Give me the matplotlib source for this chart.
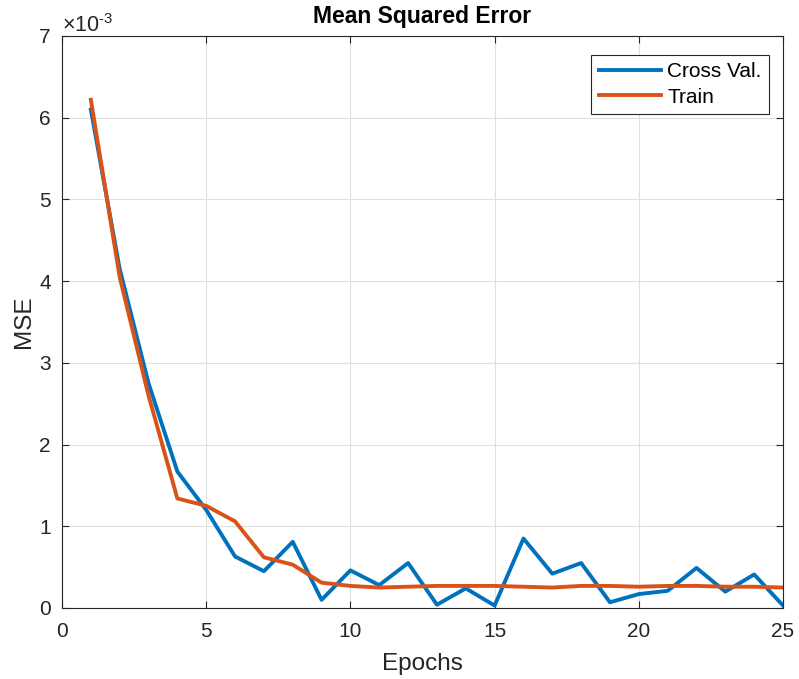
import numpy as np
import matplotlib.pyplot as plt

# --- data (MSE values, units of 1e-3) ---
epochs = np.arange(1, 26)
cross_val = [6.10, 4.15, 2.75, 1.67, 1.20, 0.63, 0.45, 0.81, 0.10, 0.46,
             0.28, 0.55, 0.04, 0.24, 0.03, 0.85, 0.42, 0.55, 0.07, 0.17,
             0.21, 0.49, 0.20, 0.41, 0.03]
train = [6.22, 4.05, 2.60, 1.34, 1.25, 1.06, 0.62, 0.53, 0.31, 0.27,
         0.25, 0.26, 0.27, 0.27, 0.27, 0.26, 0.25, 0.27, 0.27, 0.26,
         0.27, 0.27, 0.26, 0.26, 0.25]

plt.rcParams['font.family'] = ['Liberation Sans', 'DejaVu Sans']
plt.rcParams['mathtext.fontset'] = 'custom'
plt.rcParams['mathtext.rm'] = 'Liberation Sans'

fig = plt.figure(figsize=(7.99, 6.79), dpi=100)
ax = fig.add_axes([0.0776, 0.1046, 0.9024, 0.8424])

# plotted in units of 1e-3, exponent drawn as a label like MATLAB does
ax.plot(epochs, cross_val, color='#0072BD', lw=2.8, label='Cross Val.')
ax.plot(epochs, train, color='#D95319', lw=2.8, label='Train')

ax.set_xlim(0, 25)
ax.set_ylim(0, 7)
ax.set_xticks(np.arange(0, 26, 5))
ax.set_yticks(np.arange(0, 8))
ax.text(0.0, 0.998, '×10$^{\\mathrm{‐3}}$', transform=ax.transAxes,
        fontsize=15.5, color='#262626', ha='left', va='bottom')

ax.grid(True, color='#dfdfdf', lw=0.8)
ax.tick_params(direction='in', labelsize=15, colors='#262626', length=5,
               top=True, right=True)
ax.tick_params(axis='x', pad=10)
ax.tick_params(axis='y', pad=8)
for s in ax.spines.values():
    s.set_color('#262626')
    s.set_linewidth(0.8)

ax.set_title('Mean Squared Error', fontsize=16.5, fontweight='bold', pad=9)
ax.set_xlabel('Epochs', fontsize=17.5, color='#262626', labelpad=9)
ax.set_ylabel('MSE', fontsize=17.5, color='#262626', labelpad=3)

leg = ax.legend(loc='upper right', bbox_to_anchor=(0.9625, 0.919),
                bbox_transform=fig.transFigure, borderaxespad=0,
                fontsize=15, fancybox=False, framealpha=1,
                edgecolor='#262626', handlelength=3.0, handletextpad=0.3,
                labelspacing=0.3, borderpad=0.35)
leg.get_frame().set_linewidth(0.8)

fig.savefig('out.png', dpi=100)
